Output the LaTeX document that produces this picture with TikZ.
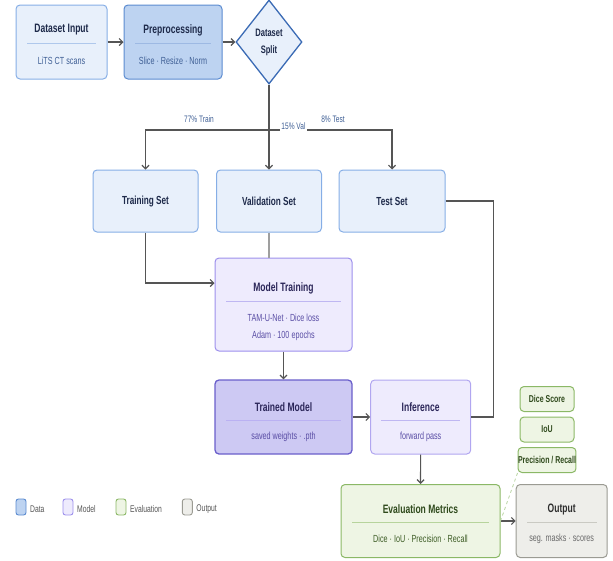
\documentclass[tikz,border=0pt]{standalone}
\usepackage{fontspec}
\setmainfont{Liberation Sans}[FakeStretch=0.7]
\usetikzlibrary{arrows.meta,shapes.geometric,positioning,calc}

% colours
\definecolor{datafill}{HTML}{E8F0FB}
\definecolor{dataline}{HTML}{86AEE6}
\definecolor{datasep}{HTML}{AFC8EC}
\definecolor{prefill}{HTML}{BDD3F1}
\definecolor{preline}{HTML}{5B8BD0}
\definecolor{splitline}{HTML}{3B6BB5}
\definecolor{datatitle}{HTML}{1E2A4A}
\definecolor{datasub}{HTML}{3F5F95}
\definecolor{mfill}{HTML}{EEEBFD}
\definecolor{mline}{HTML}{9D90EC}
\definecolor{msep}{HTML}{BFB7F2}
\definecolor{tmfill}{HTML}{CDC9F3}
\definecolor{tmline}{HTML}{6A5FCB}
\definecolor{mtitle}{HTML}{2B2659}
\definecolor{msub}{HTML}{5A4EA5}
\definecolor{efill}{HTML}{EEF5E4}
\definecolor{eline}{HTML}{8BB866}
\definecolor{esep}{HTML}{B7D49C}
\definecolor{etitle}{HTML}{2F4A1C}
\definecolor{esub}{HTML}{3D5C25}
\definecolor{ofill}{HTML}{EEEEEA}
\definecolor{oline}{HTML}{9B9B93}
\definecolor{osep}{HTML}{CACAC3}
\definecolor{otitle}{HTML}{2E2E2E}
\definecolor{osub}{HTML}{6B6B6B}
\definecolor{flowgray}{HTML}{555555}

\tikzset{
  box/.style={draw, rounded corners=4pt, line width=1pt, inner sep=0pt},
  databox/.style={box, draw=dataline, fill=datafill},
  prebox/.style={box, draw=preline, fill=prefill},
  modelbox/.style={box, draw=mline, fill=mfill},
  trainedbox/.style={box, draw=tmline, fill=tmfill, line width=1.3pt},
  evalbox/.style={box, draw=eline, fill=efill},
  outbox/.style={box, draw=oline, fill=ofill},
  ttl/.style={font=\fontsize{12.2}{14}\selectfont\bfseries},
  setttl/.style={font=\fontsize{11.7}{14}\selectfont\bfseries, text=datatitle},
  subttl/.style={font=\fontsize{10.3}{17}\selectfont, align=center},
  metric/.style={evalbox, minimum width=54pt, minimum height=25pt,
                 font=\fontsize{10}{12}\selectfont\bfseries, text=etitle},
  splitlabel/.style={font=\fontsize{9.4}{11}\selectfont, text=datasub, inner sep=1.5pt},
  flow/.style={draw=flowgray, line width=1.2pt, -{Straight Barb[length=3.5pt,width=7pt]}},
  link/.style={draw=flowgray, line width=1.2pt},
  swatch/.style={box, line width=0.9pt, rounded corners=2.5pt, minimum width=10pt, minimum height=16pt},
  legtext/.style={font=\fontsize{9.7}{11}\selectfont, text=flowgray, inner sep=0pt}
}

\begin{document}
\begin{tikzpicture}[x=1pt, y=-1pt]
  \useasboundingbox (0,0) rectangle (613,560);

  % Top row
  \node[databox, minimum width=91pt, minimum height=74pt] (input) at (61.5,42) {};
  \node[prebox, minimum width=98pt, minimum height=74pt] (pre) at (173,42) {};
  \node[diamond, draw=splitline, fill=datafill, line width=1.3pt, inner sep=0pt,
        minimum width=66pt, minimum height=84pt] (split) at (269,42) {};
  \node[align=center, text=datatitle, font=\fontsize{10.8}{17}\selectfont\bfseries]
        (splitT) at (269,42.5) {Dataset\\Split};

  \node[ttl, text=datatitle] (inputT) at (61.5,30) {Dataset Input};
  \draw[datasep, line width=0.8pt] (27,43.3) -- (96,43.3);
  \node[subttl, text=datasub] (inputS) at (61.5,61) {LiTS CT scans};

  \node[ttl, text=datatitle] (preT) at (173,30) {Preprocessing};
  \draw[preline!60, line width=0.8pt] (135,43.3) -- (211,43.3);
  \node[subttl, text=datasub] (preS) at (173,61) {Slice · Resize · Norm};

  % Split sets
  \node[databox, minimum width=105pt, minimum height=62pt] (train) at (145.5,201) {};
  \node[databox, minimum width=105pt, minimum height=62pt] (val) at (269,201) {};
  \node[databox, minimum width=106pt, minimum height=62pt] (test) at (392,201) {};
  \node[setttl] (trainT) at (train) {Training Set};
  \node[setttl] (valT) at (val) {Validation Set};
  \node[setttl] (testT) at (test) {Test Set};

  % Model stages
  \node[modelbox, minimum width=137pt, minimum height=93pt] (mtrain) at (283.5,304.5) {};
  \node[ttl, text=mtitle] (mtrainT) at (283.5,288) {Model Training};
  \draw[msep, line width=0.8pt] (226,301.7) -- (341,301.7);
  \node[subttl, text=msub] (mtrainS) at (283.5,327) {TAM-U-Net · Dice loss\\Adam · 100 epochs};

  \node[trainedbox, minimum width=137pt, minimum height=74pt] (tmodel) at (283.5,417) {};
  \node[ttl, text=mtitle] (tmodelT) at (283.5,406.7) {Trained Model};
  \draw[mline!70, line width=0.8pt] (226,420.7) -- (341,420.7);
  \node[subttl, text=msub] (tmodelS) at (283.5,436.7) {saved weights · .pth};

  \node[modelbox, draw=mline!80, minimum width=100pt, minimum height=74pt] (infer) at (420.7,417) {};
  \node[ttl, text=mtitle] (inferT) at (420.7,406.7) {Inference};
  \draw[msep, line width=0.8pt] (381,420.7) -- (460,420.7);
  \node[subttl, text=msub] (inferS) at (420.7,436.7) {forward pass};

  % Evaluation and output
  \node[evalbox, minimum width=159pt, minimum height=73pt] (eval) at (420.5,521) {};
  \node[ttl, text=etitle] (evalT) at (420.5,509) {Evaluation Metrics};
  \draw[esep, line width=0.8pt] (352,522.3) -- (489,522.3);
  \node[subttl, text=esub] (evalS) at (420.5,539) {Dice · IoU · Precision · Recall};

  \node[outbox, minimum width=91pt, minimum height=73pt] (out) at (561.7,521) {};
  \node[ttl, text=otitle] (outT) at (561.7,509) {Output};
  \draw[osep, line width=0.8pt] (527,522.3) -- (597,522.3);
  \node[subttl, text=osub] (outS) at (561.7,539) {seg. masks · scores};

  \node[metric] (dice) at (547,399) {Dice Score};
  \node[metric] (iou) at (547,429.5) {IoU};
  \node[metric] (prec) at (547,460) {Precision / Recall};

  % Connectors
  \coordinate (fork) at (269,130);
  \draw[flow] (input) -- (pre);
  \draw[flow] (pre) -- (split);
  \draw[flow] (split.south) -- (val.north);
  \draw[flow] (fork) -| (train.north);
  \draw[flow] (fork) -| (test.north);
  \node[splitlabel] (trainL) at (199,119) {77\% Train};
  \node[splitlabel, fill=white] (valL) at (293.5,126.5) {15\% Val};
  \node[splitlabel] (testL) at (333,119) {8\% Test};

  \draw[flow] (train.south) |- (mtrain.west |- 0,283);
  \draw[draw=gray!75, line width=1.2pt] (val.south) -- (val.south |- mtrain.north);
  \draw[flow] (mtrain) -- (tmodel);
  \draw[flow] (tmodel) -- (infer);
  \draw[link] (test.east) -| ($(infer.east)+(22,0)$) -- (infer.east);
  \draw[flow] (infer) -- (eval);
  \draw[flow] (eval) -- (out);
  \draw[eline!60, line width=0.8pt, dash pattern=on 3pt off 3pt] (prec.south west) -- (eval.east);

  % Legend
  \foreach \sw/\x/\lab in {prebox/21/Data, modelbox/68/Model, evalbox/121/Evaluation, outbox/187.3/Output}{
    \node[\sw, swatch] (sw\lab) at (\x,507) {};
    \node[legtext, anchor=west] (leg\lab) at ($(sw\lab.east)+(3.5,2.5)$) {\lab};
  }
\end{tikzpicture}
\end{document}
